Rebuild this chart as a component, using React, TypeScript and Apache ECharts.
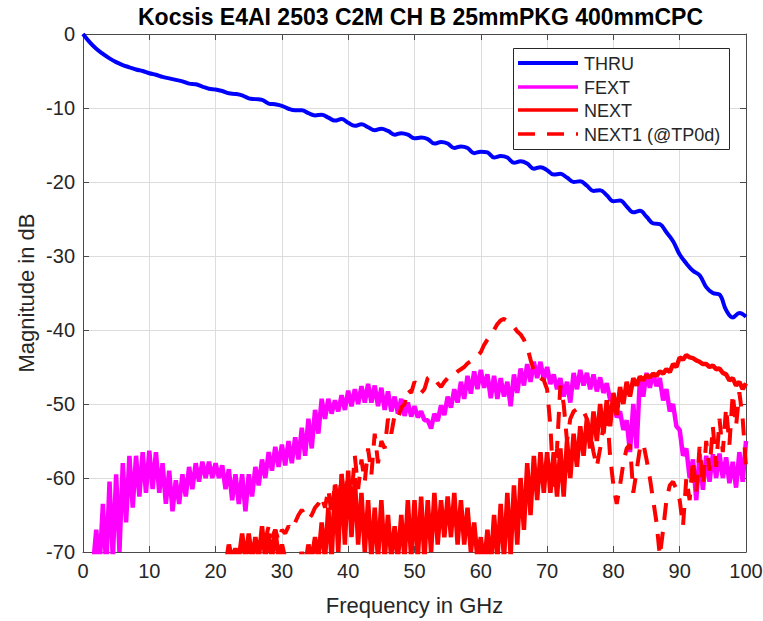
import React, { useEffect, useRef } from "react";
import * as echarts from "echarts";

// ---------- data ----------
const X_MIN = 0;
const X_MAX = 100;
const Y_MIN = -70;
const Y_MAX = 0;

const TITLE = "Kocsis E4AI 2503 C2M CH B 25mmPKG 400mmCPC";
const X_LABEL = "Frequency in GHz";
const Y_LABEL = "Magnitude in dB";
const SERIES_NAMES = ["THRU", "FEXT", "NEXT", "NEXT1 (@TP0d)"];

// THRU, 1 GHz steps from 0 GHz
const thruStart = 0;
const thruDb = [
  0, -1.1, -2.0, -2.7, -3.3, -3.8, -4.2, -4.5, -4.8, -5.0,
  -5.3, -5.5, -5.8, -6.0, -6.2, -6.4, -6.7, -6.8, -7.1, -7.4,
  -7.5, -7.7, -8.0, -8.1, -8.3, -8.7, -8.8, -8.9, -9.4, -9.5,
  -9.7, -10.1, -10.3, -10.3, -10.7, -11.0, -10.9, -11.3, -11.7, -11.5,
  -12.0, -12.4, -12.2, -12.6, -13.0, -12.8, -13.1, -13.6, -13.4, -13.6,
  -14.1, -14.0, -14.2, -14.8, -14.6, -14.8, -15.4, -15.2, -15.4, -16.1,
  -15.9, -16.0, -16.7, -16.5, -16.7, -17.4, -17.2, -17.5, -18.2, -18.0,
  -18.4, -19.0, -18.9, -19.4, -20.0, -19.9, -20.5, -21.2, -21.1, -21.8,
  -22.6, -22.5, -23.3, -24.1, -23.9, -24.7, -25.6, -25.7, -26.8, -28.0,
  -29.8, -31.0, -32.0, -32.6, -34.2, -35.0, -35.2, -37.3, -38.3, -37.7,
  -38.2,
];

// FEXT band: upper edge at integer GHz, lower edge at +0.5 GHz, from 1 GHz
const fextStart = 1;
const fextHi = [
  -71, -67, -63.5, -60.5, -59.5, -58, -57, -57, -56.5, -56.3,
  -56.5, -58, -59, -60.3, -59.5, -58.5, -58, -57.8, -57.8, -58,
  -58.3, -58.8, -59.5, -59.5, -59.5, -58.5, -57.5, -56.5, -55.8, -55.5,
  -55, -54.5, -53.2, -52, -50.8, -49.3, -49.3, -49.5, -48.8, -48.2,
  -48, -47.6, -47.3, -47.5, -47.8, -48.3, -49, -49.3, -49.8, -50.3,
  -51, -52.2, -51.3, -50.2, -49, -48, -47, -46.2, -45.6, -45.4,
  -46, -46.2, -46.5, -47, -46, -45.2, -44.6, -44.3, -44.3, -45,
  -46, -46.5, -47, -45.8, -45.4, -45.8, -46, -46.4, -47.2, -49.5,
  -51, -52.2, -50, -46.5, -45.8, -45.8, -46.5, -48, -50, -53.5,
  -56, -57.5, -56.7, -57, -56.8, -56.7, -57.2, -57.8, -56.5, -55,
];
const fextLo = [
  -72, -72, -72, -71, -70, -66, -64, -62.5, -62, -61.5,
  -62, -63.5, -64.5, -63.5, -62.5, -61.5, -60.5, -60, -60, -60,
  -61.5, -63, -63.5, -64.5, -62.5, -61, -60, -59, -58.5, -58.3,
  -58, -57.5, -57, -56, -54, -52, -51.3, -51, -50.8, -50.3,
  -50, -49.8, -49.8, -50.3, -50.8, -51, -51.3, -51.6, -51.7, -51.8,
  -52.2, -53.3, -52.3, -51.5, -50.5, -49.8, -49.3, -48.6, -48, -47.8,
  -49.2, -49.3, -49, -50.3, -48.5, -47.5, -47, -46.5, -46.7, -47.3,
  -48, -49, -49.8, -48, -47.5, -48, -48.3, -48.5, -49.4, -51.8,
  -53.5, -56.5, -56, -49, -47.8, -47.6, -49.5, -51, -53, -57,
  -60, -63, -61.6, -60.5, -60, -60, -60.7, -61.3, -60.5,
];

// NEXT band: upper edge at integer GHz, lower edge at +0.5 GHz, from 21 GHz
const nextStart = 21;
const nextHi = [
  -71, -69, -69.5, -67.5, -67.5, -68, -66.5, -67.5, -67, -69,
  -71, -71, -70, -69, -68, -66, -64, -61, -59.5, -59,
  -60, -62, -63, -64, -63, -65, -66.5, -65, -63, -63,
  -62.5, -63, -62, -63, -62.5, -62, -63, -64, -66, -68,
  -67, -65, -63.5, -62, -61, -60, -58, -57, -56.5, -56.5,
  -56.5, -56, -55, -54, -53, -52, -51, -50, -49.5, -48.5,
  -47.7, -47, -46.5, -46.3, -46.1, -45.9, -45.6, -45.3, -44.6, -43.7,
  -43.4, -43.8, -44.3, -44.6, -44.8, -45.2, -46, -46.5, -47, -47.2,
];
const nextLo = [
  -72, -71, -71, -71, -71, -71, -71, -71, -71, -71,
  -72, -72, -72, -71, -71, -71, -71, -70, -69, -68,
  -69, -70, -71, -71, -71, -71, -71, -71, -71, -71,
  -71, -70, -69, -68, -68, -69, -69, -70, -71, -72,
  -72, -71, -71, -70.5, -69, -67, -65, -63, -62, -62,
  -62.5, -62.5, -60, -58.5, -57, -56, -55, -54, -53, -51.5,
  -50, -49, -47.5, -46.8, -46.4, -46.2, -45.9, -45.7, -45, -44,
  -43.7, -44.1, -44.6, -45, -45.3, -45.8, -46.8, -47.5, -48,
];

// NEXT1 (@TP0d), 0.5 GHz steps from 24 GHz
const next1Start = 24;
const next1Step = 0.5;
const next1Db = [
  -72, -71, -70, -69.5, -68.5, -69.5, -67.5, -68.5, -66.5, -68,
  -67, -68.5, -67, -67.5, -66.5, -67, -66, -65, -64.3, -65,
  -65.6, -65, -64, -63.5, -62.5, -64, -61.5, -65, -60.5, -64,
  -59.4, -63, -59.5, -62.5, -57, -61.5, -57.5, -60.5, -56, -59.5,
  -54, -58, -55, -56, -52, -54, -51.5, -52, -50.5, -50,
  -48, -48.5, -47, -47.5, -48.5, -48, -46.5, -46.2, -46.5, -47.2,
  -47.7, -47, -46.5, -46.5, -46, -45.6, -45.3, -45, -44.5, -44.2,
  -44, -43.5, -43, -42, -41.3, -40.7, -40, -39.2, -38.7, -38.5,
  -38.8, -39.2, -39.6, -40.2, -40.6, -41.3, -42.3, -44, -45.5, -46.3,
  -46.5, -46.8, -48, -53, -61.5, -56, -47.5, -50, -55, -52,
  -51, -50.7, -50.5, -51, -52, -54, -56.5, -58.5, -56, -53,
  -50.5, -57, -61, -63.5, -61, -58, -56, -55.5, -62, -59,
  -56, -55.3, -57.5, -60, -63, -66, -70.5, -67, -63, -61,
  -60.5, -61.5, -63, -66.5, -60, -63, -57.5, -62, -55.8, -61,
  -55, -59, -53, -58.5, -52, -56.5, -50.5, -55.5, -48.6, -53,
  -48.4, -52, -58.5,
];

// ---------- helpers ----------
function bandPoints(start: number, hi: number[], lo: number[]) {
  const pts: number[][] = [];
  for (let i = 0; i < hi.length; i++) {
    pts.push([start + i, hi[i]]);
    if (i < lo.length) pts.push([start + i + 0.5, lo[i]]);
  }
  return pts;
}
function stepPoints(start: number, step: number, vals: number[]) {
  return vals.map((v, i) => [start + i * step, v]);
}

const FONT = '"Liberation Sans", Arial, Helvetica, sans-serif';
const TXT = "#262626";
const GRID = { left: 83, right: 17, top: 34, bottom: 69 };
const COLORS = ["#0000ff", "#ff00ff", "#ff0000", "#ff0000"];

export default function App() {
  const ref = useRef<HTMLDivElement>(null);

  useEffect(() => {
    if (!ref.current) return;
    const chart = echarts.init(ref.current, undefined, { renderer: "svg" });

    const plotL = GRID.left;
    const plotR = 763 - GRID.right;
    const plotT = GRID.top;
    const plotB = 621 - GRID.bottom;

    const axisCommon = {
      type: "value" as const,
      axisLine: { show: true, onZero: false, lineStyle: { color: "#4a4a4a", width: 1 } },
      axisTick: { show: true, inside: true, length: 6, lineStyle: { color: "#4a4a4a" } },
    };

    const legendY = [63, 87, 110, 134];
    const legendGraphics: any[] = [
      {
        type: "rect",
        shape: { x: 513.5, y: 48.5, width: 216, height: 101 },
        style: { fill: "#ffffff", stroke: "#262626", lineWidth: 1 },
        z: 100,
      },
    ];
    SERIES_NAMES.forEach((name, i) => {
      legendGraphics.push({
        type: "line",
        shape: { x1: 518, y1: legendY[i], x2: 578, y2: legendY[i] },
        style: {
          stroke: COLORS[i],
          lineWidth: i === 0 ? 4 : 3.5,
          lineDash: i === 3 ? [17, 12] : null,
        },
        z: 101,
      });
      legendGraphics.push({
        type: "text",
        x: 584,
        y: legendY[i] + 1,
        style: {
          text: name,
          font: `18px ${FONT}`,
          fill: TXT,
          align: "left",
          verticalAlign: "middle",
          textAlign: "left",
          textVerticalAlign: "middle",
        },
        z: 101,
      });
    });

    chart.setOption({
      animation: false,
      backgroundColor: "#ffffff",
      grid: { ...GRID, containLabel: false, outerBoundsMode: "none" },
      xAxis: [
        {
          ...axisCommon,
          position: "bottom",
          min: X_MIN,
          max: X_MAX,
          interval: 10,
          axisLabel: { show: true, color: TXT, fontSize: 20, fontFamily: FONT, margin: 9 },
          splitLine: { show: true, lineStyle: { color: "#dcdcdc", width: 1 } },
        },
        {
          ...axisCommon,
          position: "top",
          min: X_MIN,
          max: X_MAX,
          interval: 10,
          axisLabel: { show: false },
          splitLine: { show: false },
        },
      ],
      yAxis: [
        {
          ...axisCommon,
          position: "left",
          min: Y_MIN,
          max: Y_MAX,
          interval: 10,
          axisLabel: { show: true, color: TXT, fontSize: 20, fontFamily: FONT, margin: 8 },
          splitLine: { show: true, lineStyle: { color: "#dcdcdc", width: 1 } },
        },
        {
          ...axisCommon,
          position: "right",
          min: Y_MIN,
          max: Y_MAX,
          interval: 10,
          axisLabel: { show: false },
          splitLine: { show: false },
        },
      ],
      series: [
        {
          name: SERIES_NAMES[0],
          type: "line",
          data: stepPoints(thruStart, 1, thruDb),
          symbol: "none",
          smooth: 0.4,
          lineStyle: { color: COLORS[0], width: 4 },
          clip: true,
          z: 2,
        },
        {
          name: SERIES_NAMES[1],
          type: "line",
          data: bandPoints(fextStart, fextHi, fextLo),
          symbol: "none",
          lineStyle: { color: COLORS[1], width: 4.5 },
          clip: true,
          z: 3,
        },
        {
          name: SERIES_NAMES[2],
          type: "line",
          data: bandPoints(nextStart, nextHi, nextLo),
          symbol: "none",
          lineStyle: { color: COLORS[2], width: 4.5 },
          clip: true,
          z: 4,
        },
        {
          name: SERIES_NAMES[3],
          type: "line",
          data: stepPoints(next1Start, next1Step, next1Db),
          symbol: "none",
          lineStyle: { color: COLORS[3], width: 4, type: [17, 12] },
          clip: true,
          z: 5,
        },
      ],
      graphic: [
        {
          type: "text",
          x: (plotL + plotR) / 2 + 6,
          y: 17,
          style: {
            text: TITLE,
            font: `bold 23px ${FONT}`,
            fill: "#000000",
            align: "center",
            verticalAlign: "middle",
            textAlign: "center",
            textVerticalAlign: "middle",
          },
          z: 100,
        },
        {
          type: "text",
          x: (plotL + plotR) / 2,
          y: 605,
          style: {
            text: X_LABEL,
            font: `22px ${FONT}`,
            fill: TXT,
            align: "center",
            verticalAlign: "middle",
            textAlign: "center",
            textVerticalAlign: "middle",
          },
          z: 100,
        },
        {
          type: "text",
          x: 26,
          y: (plotT + plotB) / 2,
          rotation: Math.PI / 2,
          style: {
            text: Y_LABEL,
            font: `22px ${FONT}`,
            fill: TXT,
            align: "center",
            verticalAlign: "middle",
            textAlign: "center",
            textVerticalAlign: "middle",
          },
          z: 100,
        },
        ...legendGraphics,
      ],
    });

    return () => chart.dispose();
  }, []);

  return (
    <div
      ref={ref}
      style={{ position: "absolute", left: 0, top: 0, width: 763, height: 621 }}
    />
  );
}
